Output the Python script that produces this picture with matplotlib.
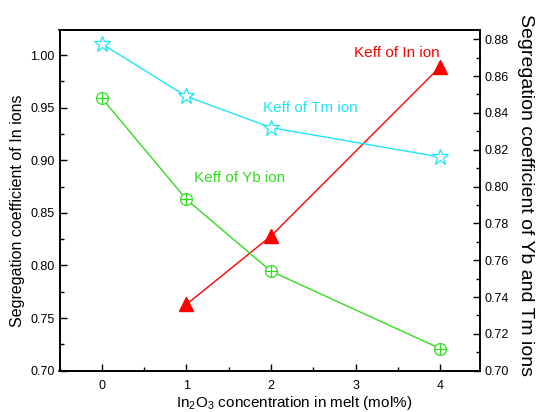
import matplotlib
matplotlib.use("Agg")
import matplotlib.pyplot as plt
from matplotlib.ticker import MultipleLocator, FormatStrFormatter

plt.rcParams['font.family'] = ['Liberation Sans', 'DejaVu Sans']
plt.rcParams['mathtext.fontset'] = 'custom'
plt.rcParams['mathtext.rm'] = 'Liberation Sans'

x_in = [1, 2, 4]
keff_in = [0.763, 0.828, 0.989]
x_re = [0, 1, 2, 4]
keff_yb = [0.848, 0.793, 0.754, 0.712]
keff_tm = [0.8775, 0.849, 0.832, 0.816]

red = '#FF0000'
cyan = '#1EE6F2'
green = '#33DD22'

fig = plt.figure(figsize=(5.37, 4.12), dpi=100)
ax = fig.add_axes([59.5/537, 1-370.7/412, 420.5/537, 340.7/412])
ax2 = ax.twinx()

ax.plot(x_in, keff_in, color=red, lw=1.0, marker='^', ms=10, mfc=red, mec=red)
ax2.plot(x_re, keff_tm, color=cyan, lw=1.0, marker='*', ms=12, mfc='white', mec=cyan, mew=0.9)
ax2.plot(x_re, keff_yb, color=green, lw=1.0, marker='o', ms=8.5, mfc='white', mec=green, mew=0.9)
ax2.plot(x_re, keff_yb, color=green, lw=0, marker='+', ms=8.5, mec=green, mew=0.9)

ax.set_xlim(-0.5, 4.47)
ax.set_ylim(0.70, 1.0238)
ax2.set_ylim(0.70, 0.885)

ax.set_xticks([0, 1, 2, 3, 4])
ax.xaxis.set_minor_locator(MultipleLocator(0.5))
ax.yaxis.set_major_locator(MultipleLocator(0.05))
ax.yaxis.set_minor_locator(MultipleLocator(0.025))
ax2.yaxis.set_major_locator(MultipleLocator(0.02))
ax2.yaxis.set_minor_locator(MultipleLocator(0.01))
ax.yaxis.set_major_formatter(FormatStrFormatter('%.2f'))
ax2.yaxis.set_major_formatter(FormatStrFormatter('%.2f'))

for a in (ax, ax2):
    a.tick_params(which='major', direction='in', length=5, width=1, labelsize=9)
    a.tick_params(which='minor', direction='in', length=3, width=1)
    for s in a.spines.values():
        s.set_linewidth(1.2)
ax.tick_params(axis='x', pad=7)

ax.set_xlabel('In$_2$O$_3$ concentration in melt (mol%)', fontsize=11, va='center')
ax.xaxis.set_label_coords(0.558, -0.094)
ax.set_ylabel('Segregation coefficient of In ions', fontsize=11.5, va='center')
ax.yaxis.set_label_coords(-0.099, 0.47)
ax2.set_ylabel('Segregation coefficient of Yb and Tm ions', fontsize=14, rotation=270, va='center')
ax2.yaxis.set_label_coords(1.109, 0.515)

ax.text(2.98, 1.002, 'Keff of In ion', color=red, fontsize=11, va='center')
ax.text(1.90, 0.9497, 'Keff of Tm ion', color=cyan, fontsize=11, va='center')
ax.text(1.09, 0.883, 'Keff of Yb ion', color=green, fontsize=11, va='center')

fig.savefig('out.png', dpi=100)
